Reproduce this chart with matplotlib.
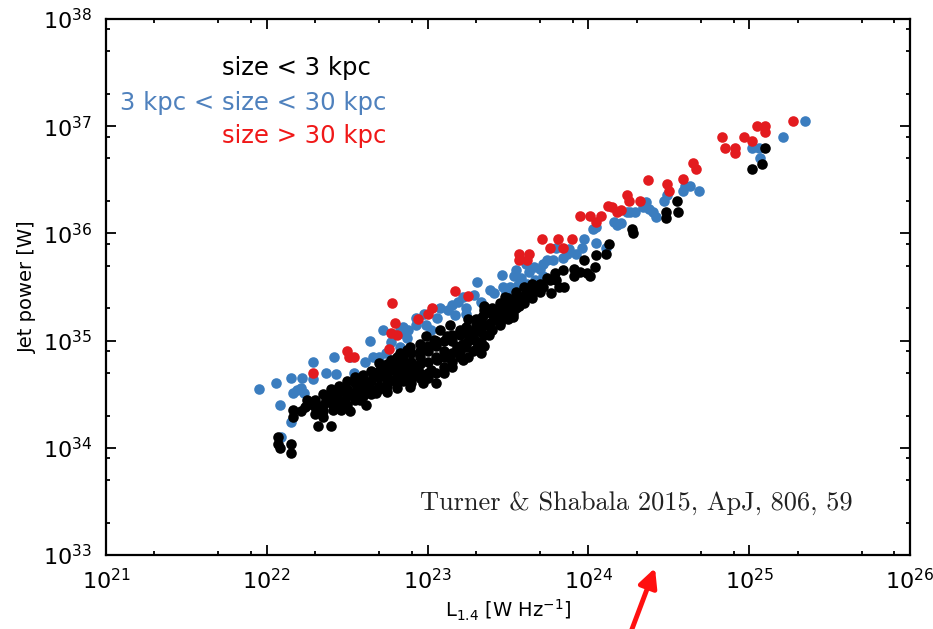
import numpy as np
import matplotlib
matplotlib.use("Agg")
import matplotlib.pyplot as plt
from matplotlib.ticker import LogLocator, NullFormatter

# log10 of L_1.4 [W/Hz] and jet power [W]
red_logL = [24.83, 24.85, 24.91, 24.91, 24.97, 25.02, 25.05, 25.10, 25.10, 25.27,
            24.65, 24.67, 24.59, 24.37, 24.49, 24.50, 24.24, 24.25, 24.15, 24.20,
            24.32, 24.12, 24.18, 23.95, 24.01, 24.08, 24.05, 23.71, 23.81, 23.90,
            23.76, 23.84, 23.57, 23.63, 23.57, 23.62, 23.17, 23.25, 22.78, 23.03,
            23.00, 22.94, 22.80, 22.77, 22.81, 22.76, 22.50, 22.51, 22.54, 22.29]
red_logP = [36.90, 36.80, 36.80, 36.75, 36.90, 36.86, 37.00, 37.00, 36.95, 37.05,
            36.66, 36.60, 36.51, 36.50, 36.46, 36.40, 36.36, 36.30, 36.25, 36.22,
            36.30, 36.26, 36.20, 36.16, 36.16, 36.16, 36.11, 35.95, 35.95, 35.95,
            35.86, 35.86, 35.81, 35.81, 35.75, 35.75, 35.46, 35.42, 35.35, 35.30,
            35.25, 35.20, 35.16, 35.07, 35.05, 34.92, 34.90, 34.85, 34.85, 34.70]

blue_logL = [25.35, 25.21, 25.02, 25.06, 25.07, 24.60, 24.63, 24.69, 24.59, 24.47,
             24.49, 24.36, 24.34, 24.38, 24.40, 24.42, 24.26, 24.29, 24.20, 24.18,
             24.24, 24.16, 24.05, 24.03, 23.97, 24.05, 23.96, 23.92, 23.87, 23.80,
             23.84, 23.78, 23.74, 23.72, 24.11, 23.66, 23.63, 23.55, 23.54, 23.58,
             23.72, 23.67, 23.46, 23.47, 23.51, 23.56, 23.49, 23.88, 23.61, 23.70,
             23.39, 23.31, 23.29, 23.33, 23.24, 23.22, 23.19, 23.15, 23.17, 23.41,
             23.13, 23.08, 23.24, 23.06, 22.98, 22.93, 22.93, 22.88, 22.85, 22.99,
             23.02, 22.84, 22.87, 22.72, 22.77, 22.83, 22.74, 22.70, 22.29, 22.42,
             22.52, 22.43, 22.37, 22.54, 22.61, 22.66, 22.64, 22.83, 22.22, 22.29,
             21.95, 22.06, 22.15, 22.19, 22.21, 22.16, 22.23, 22.08, 22.15, 22.09,
             23.62]
blue_logP = [37.05, 36.90, 36.80, 36.80, 36.70, 36.44, 36.44, 36.40, 36.40, 36.30,
             36.36, 36.29, 36.25, 36.23, 36.20, 36.15, 36.20, 36.20, 36.10, 36.08,
             36.20, 36.11, 36.06, 36.04, 35.95, 35.91, 35.86, 35.81, 35.81, 35.86,
             35.77, 35.75, 35.75, 35.71, 35.86, 35.69, 35.64, 35.66, 35.60, 35.58,
             35.60, 35.57, 35.61, 35.50, 35.50, 35.52, 35.44, 35.85, 35.71, 35.67,
             35.47, 35.55, 35.43, 35.36, 35.25, 35.41, 35.36, 35.33, 35.24, 35.44,
             35.29, 35.30, 35.30, 35.21, 35.25, 35.21, 35.15, 35.10, 35.13, 35.15,
             35.10, 35.07, 35.02, 35.10, 34.99, 34.94, 34.88, 34.85, 34.80, 34.85,
             34.85, 34.69, 34.70, 34.70, 34.80, 34.85, 35.00, 35.10, 34.65, 34.64,
             34.55, 34.60, 34.65, 34.54, 34.56, 34.51, 34.51, 34.40, 34.24, 34.10,
             35.53]

black_logL = [25.10, 25.08, 25.02, 24.55, 24.56, 24.48, 24.48, 24.28, 24.27, 24.13,
              24.11, 24.05, 24.04, 24.01, 23.97, 23.91, 23.91, 23.84, 23.82, 23.76,
              23.72, 23.65, 23.63, 23.67, 23.55, 23.51, 23.48, 23.53, 23.49, 23.45,
              23.41, 23.39, 23.35, 23.34, 23.30, 23.26, 23.22, 23.18, 23.33, 23.99,
              23.95, 23.79, 23.80, 23.85, 23.74, 23.77, 23.70, 23.66, 23.59, 23.55,
              23.47, 23.53, 23.49, 23.57, 23.53, 23.47, 23.43, 23.35, 23.39, 23.33,
              23.28, 23.33, 23.24, 23.20, 23.14, 23.12, 23.08, 23.04, 22.99, 22.95,
              22.89, 22.83, 22.77, 22.72, 23.18, 23.12, 23.06, 23.02, 22.93, 22.87,
              22.81, 22.97, 22.89, 23.24, 23.22, 23.33, 22.16, 22.16, 22.21, 22.24,
              22.28, 22.31, 22.35, 22.35, 22.37, 22.42, 22.46, 22.50, 22.53, 22.48,
              22.56, 22.62, 22.60, 22.66, 22.72, 22.77, 22.70, 22.81, 22.85, 22.81,
              22.87, 22.77, 22.81, 22.75, 22.68, 22.62, 22.58, 22.52, 22.46, 22.41,
              22.32, 22.40, 22.07, 22.07, 22.08, 22.15, 22.15,
              23.10, 23.15, 23.00, 22.95, 23.05, 23.20, 23.25, 23.30, 23.40, 23.45,
              22.90, 22.85, 22.95, 23.10, 23.15, 23.20, 23.35, 23.00, 22.90, 22.75,
              23.60, 23.55, 23.50, 23.45, 23.38, 23.28, 23.05, 22.92, 22.60, 22.65,
              22.70, 22.55, 22.45, 22.40, 22.30,
              22.25, 22.25, 22.30, 22.30, 22.35, 22.35, 22.40, 22.40, 22.45, 22.45,
              22.45, 22.50, 22.50, 22.50, 22.55, 22.55, 22.55, 22.60, 22.60, 22.60,
              22.65, 22.65, 22.65, 22.70, 22.70, 22.70, 22.75, 22.75, 22.75, 22.80,
              22.80, 22.80, 22.85, 22.85, 22.85, 22.90, 22.90, 22.90, 22.95, 22.95,
              22.95, 23.00, 23.00, 23.00, 23.05, 23.05, 23.05, 23.10, 23.10, 23.10,
              23.15, 23.15, 23.15, 23.20, 23.20, 23.20, 23.25, 23.25, 23.25, 23.30,
              23.30, 23.30, 23.35, 23.35, 23.35, 23.40, 23.40, 23.45, 23.45, 23.50,
              23.50, 23.55, 23.55, 23.60, 23.60, 23.65, 23.70]
black_logP = [36.80, 36.65, 36.60, 36.30, 36.20, 36.20, 36.14, 36.00, 36.04, 35.90,
              35.81, 35.80, 35.69, 35.60, 35.75, 35.67, 35.60, 35.66, 35.50, 35.57,
              35.50, 35.53, 35.44, 35.46, 35.41, 35.36, 35.41, 35.22, 35.32, 35.16,
              35.22, 35.16, 35.32, 35.22, 35.10, 35.04, 34.97, 34.94, 34.97, 35.63,
              35.64, 35.63, 35.57, 35.50, 35.58, 35.44, 35.53, 35.49, 35.41, 35.38,
              35.32, 35.25, 35.22, 35.32, 35.29, 35.25, 35.19, 35.29, 35.13, 35.08,
              35.04, 34.99, 35.13, 35.08, 35.15, 35.04, 35.10, 35.01, 35.04, 34.97,
              34.94, 34.88, 34.82, 34.73, 34.91, 34.85, 34.82, 34.73, 34.76, 34.69,
              34.66, 34.60, 34.57, 34.94, 34.82, 34.88, 34.35, 34.29, 34.34, 34.38,
              34.42, 34.37, 34.34, 34.29, 34.45, 34.46, 34.43, 34.48, 34.51, 34.56,
              34.57, 34.59, 34.63, 34.66, 34.69, 34.76, 34.79, 34.79, 34.76, 34.85,
              34.91, 34.63, 34.56, 34.52, 34.51, 34.40, 34.45, 34.34, 34.35, 34.35,
              34.20, 34.20, 34.10, 34.04, 34.00, 34.04, 33.95,
              34.90, 35.00, 34.90, 34.85, 34.95, 35.05, 35.20, 35.20, 35.30, 35.35,
              34.80, 34.85, 34.70, 34.75, 34.80, 34.95, 35.15, 34.65, 34.65, 34.62,
              35.50, 35.45, 35.40, 35.28, 35.05, 34.90, 34.60, 34.70, 34.52, 34.55,
              34.58, 34.45, 34.40, 34.42, 34.32,
              34.40, 34.45, 34.45, 34.38, 34.50, 34.40, 34.50, 34.55, 34.52, 34.58,
              34.45, 34.55, 34.62, 34.40, 34.60, 34.50, 34.66, 34.58, 34.68, 34.48,
              34.62, 34.72, 34.50, 34.66, 34.72, 34.55, 34.70, 34.78, 34.58, 34.72,
              34.62, 34.82, 34.70, 34.80, 34.62, 34.75, 34.88, 34.60, 34.78, 34.90,
              34.65, 34.80, 34.95, 34.70, 34.85, 35.00, 34.70, 34.85, 35.00, 34.70,
              34.88, 35.05, 34.75, 34.90, 35.10, 34.85, 35.00, 35.10, 34.85, 35.00,
              35.15, 34.92, 35.05, 35.25, 34.95, 35.10, 35.25, 35.15, 35.25, 35.20,
              35.30, 35.30, 35.35, 35.35, 35.42, 35.40, 35.45]

legend_labels = ["size < 3 kpc", "3 kpc < size < 30 kpc", "size > 30 kpc"]
citation = "Turner & Shabala 2015, ApJ, 806, 59"

plt.rcParams['font.family'] = ['DejaVu Sans']
plt.rcParams['mathtext.fontset'] = 'dejavusans'

fig = plt.figure(figsize=(9.33, 6.29), dpi=100)
ax = fig.add_axes([0.1136, 0.1176, 0.8617, 0.8522])

msize = 58
ax.scatter(10 ** np.array(blue_logL), 10 ** np.array(blue_logP), s=msize,
           color='#3b7dbf', linewidths=0, zorder=2)
ax.scatter(10 ** np.array(red_logL), 10 ** np.array(red_logP), s=msize,
           color='#e31b1f', linewidths=0, zorder=2.5)
ax.scatter(10 ** np.array(black_logL), 10 ** np.array(black_logP), s=msize,
           color='black', linewidths=0, zorder=3)

ax.set_xscale('log')
ax.set_yscale('log')
ax.set_xlim(1e21, 1e26)
ax.set_ylim(1e33, 1e38)

for axis in (ax.xaxis, ax.yaxis):
    axis.set_major_locator(LogLocator(base=10, numticks=12))
    axis.set_minor_locator(LogLocator(base=10, subs=[2, 5, 8], numticks=12))
    axis.set_minor_formatter(NullFormatter())

ax.tick_params(which='both', direction='in', top=True, right=True, width=1.3)
ax.tick_params(which='major', length=7, labelsize=16)
ax.tick_params(which='minor', length=3.2)
ax.tick_params(axis='y', which='major', pad=10)
ax.tick_params(axis='x', which='major', pad=9)
for sp in ax.spines.values():
    sp.set_linewidth(1.6)

ax.set_xlabel(r'L$_{1.4}$ [W Hz$^{-1}$]', fontsize=14)
ax.set_ylabel('Jet power [W]', fontsize=14)
ax.xaxis.set_label_coords(0.5, -0.080)
ax.yaxis.set_label_coords(-0.086, 0.5)

ax.text(0.1443, 0.8955, legend_labels[0], transform=ax.transAxes, fontsize=17.5,
        color='black', ha='left', va='baseline')
ax.text(0.0174, 0.830, legend_labels[1], transform=ax.transAxes, fontsize=17.5,
        color='#4f81bd', ha='left', va='baseline')
ax.text(0.1443, 0.7687, legend_labels[2], transform=ax.transAxes, fontsize=17.5,
        color='#f01818', ha='left', va='baseline')

ax.text(0.3905, 0.084, citation, transform=ax.transAxes, fontsize=19,
        family='cmr10', color='#222222', ha='left', va='baseline')

ax.annotate('', xy=(655, 61), xytext=(629, -8), xycoords='figure pixels',
            textcoords='figure pixels', annotation_clip=False,
            arrowprops=dict(arrowstyle='-|>', color='#ff1010', lw=3.5,
                            mutation_scale=28, shrinkA=0, shrinkB=0))

fig.savefig('out.png', dpi=100)
